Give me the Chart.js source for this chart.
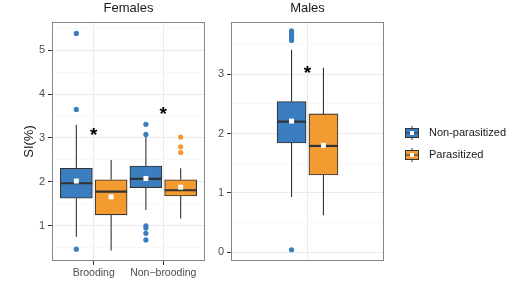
<!DOCTYPE html>
<html>
<head>
<meta charset="utf-8">
<script src="https://cdn.jsdelivr.net/npm/chart.js@4"></script>
<style>
  body { margin: 0; background: #fff; }
  #wrap { position: relative; width: 528px; height: 284px; }
  canvas { position: absolute; top: 0; }
</style>
</head>
<body>
<div id="wrap">
  <canvas id="femCanvas" width="210" height="284" style="left:0"></canvas>
  <canvas id="maleCanvas" width="318" height="284" style="left:210px"></canvas>
</div>
<script>
// --- data ---
const femCats = ["Brooding", "Non\u2212brooding"];
const femMajor = [1, 2, 3, 4, 5];
const femMinor = [0.5, 1.5, 2.5, 3.5, 4.5, 5.5];

// Females, non-parasitized (blue)
const fNpLow = [0.75, 1.36];
const fNpQ1 = [1.63, 1.87];
const fNpMed = [1.97, 2.07];
const fNpQ3 = [2.31, 2.36];
const fNpHigh = [3.30, 3.05];
const fNpMean = [2.02, 2.08];
const fNpOutB = [5.38, 3.65, 0.47];
const fNpOutNB = [3.31, 3.08, 1.00, 0.95, 0.83, 0.68];

// Females, parasitized (orange)
const fPLow = [0.44, 1.17];
const fPQ1 = [1.25, 1.68];
const fPMed = [1.78, 1.81];
const fPQ3 = [2.05, 2.05];
const fPHigh = [2.50, 2.31];
const fPMean = [1.66, 1.88];
const fPOutB = [];
const fPOutNB = [3.02, 2.80, 2.67];

const femStars = [3.14, 3.62];

// Males
const maleMajor = [0, 1, 2, 3];
const maleMinor = [0.5, 1.5, 2.5, 3.5];
const mNp = { low: 0.93, q1: 1.84, med: 2.20, q3: 2.54, high: 3.41, mean: 2.21 };
const mNpOut = [3.73, 3.69, 3.65, 3.61, 3.57, 0.04];
const mP = { low: 0.62, q1: 1.30, med: 1.79, q3: 2.33, high: 3.11, mean: 1.80 };
const mPOut = [];
const maleStars = [3.08];

const legendLabels = ["Non-parasitized", "Parasitized"];

const BLUE = "#3a7ebf";
const ORANGE = "#f39b30";
const LINE = "#333333";
const FONT = "'Liberation Sans', Arial, sans-serif";

// whiskers + median for box datasets, drawn right after the box itself
const boxExtras = {
  id: "boxExtras",
  afterDatasetDraw(chart, args) {
    const ds = chart.data.datasets[args.index];
    if (!ds.stats) return;
    const y = chart.scales.y;
    const ctx = chart.ctx;
    const s = ds.stats;
    ctx.save();
    ctx.strokeStyle = LINE;
    args.meta.data.forEach((bar, i) => {
      const half = bar.width / 2;
      ctx.lineWidth = 1.1;
      ctx.beginPath();
      ctx.moveTo(bar.x, y.getPixelForValue(s.high[i]));
      ctx.lineTo(bar.x, y.getPixelForValue(s.q3[i]));
      ctx.moveTo(bar.x, y.getPixelForValue(s.q1[i]));
      ctx.lineTo(bar.x, y.getPixelForValue(s.low[i]));
      ctx.stroke();
      ctx.lineWidth = 2.2;
      ctx.beginPath();
      const ym = y.getPixelForValue(s.med[i]);
      ctx.moveTo(bar.x - half, ym);
      ctx.lineTo(bar.x + half, ym);
      ctx.stroke();
    });
    ctx.restore();
  }
};

// panel border, significance stars, optional legend
const panelDeco = {
  id: "panelDeco",
  afterDraw(chart, args, opts) {
    const ctx = chart.ctx;
    const a = chart.chartArea;
    ctx.save();
    ctx.strokeStyle = "#858585";
    ctx.lineWidth = 1;
    ctx.strokeRect(Math.round(a.left) + 0.5, Math.round(a.top) + 0.5,
      Math.round(a.right - a.left) - 1, Math.round(a.bottom - a.top) - 1);

    ctx.fillStyle = "#000";
    ctx.font = "bold 19px " + FONT;
    ctx.textAlign = "center";
    ctx.textBaseline = "alphabetic";
    const m = ctx.measureText("*");
    const shift = (m.actualBoundingBoxAscent - m.actualBoundingBoxDescent) / 2;
    (opts.stars || []).forEach((v, i) => {
      const px = chart.scales.x.getPixelForValue(i + 1);
      const py = chart.scales.y.getPixelForValue(v);
      ctx.fillText("*", px, py + shift);
    });

    if (opts.legend) {
      const colors = [BLUE, ORANGE];
      const x0 = a.right + 21;
      const ys = [133, 155];
      ctx.font = "11px " + FONT;
      ctx.textAlign = "left";
      ctx.textBaseline = "middle";
      legendLabels.forEach((lab, i) => {
        const cy = ys[i];
        ctx.strokeStyle = LINE;
        ctx.lineWidth = 1;
        ctx.beginPath();
        ctx.moveTo(x0 + 7, cy - 7);
        ctx.lineTo(x0 + 7, cy + 7);
        ctx.stroke();
        ctx.fillStyle = colors[i];
        ctx.fillRect(x0 + 0.5, cy - 4.5, 13, 9);
        ctx.strokeRect(x0 + 0.5, cy - 4.5, 13, 9);
        ctx.beginPath();
        ctx.moveTo(x0 + 0.5, cy);
        ctx.lineTo(x0 + 13.5, cy);
        ctx.stroke();
        ctx.fillStyle = "#fff";
        ctx.fillRect(x0 + 5, cy - 2, 4, 4);
        ctx.fillStyle = "#1a1a1a";
        ctx.fillText(lab, x0 + 24, cy);
      });
    }
    ctx.restore();
  }
};

function boxSet(xs, q1, q3, low, med, high, color, width) {
  return {
    type: "bar",
    data: xs.map((x, i) => ({ x: x, y: [q1[i], q3[i]] })),
    stats: { low: low, q1: q1, med: med, q3: q3, high: high },
    backgroundColor: color,
    borderColor: LINE,
    borderWidth: 1.1,
    borderSkipped: false,
    barThickness: width,
    grouped: false,
    order: 2
  };
}

function pointSet(pts, color, style, radius) {
  return {
    type: "scatter",
    data: pts,
    backgroundColor: color,
    borderWidth: 0,
    pointStyle: style,
    pointRadius: radius,
    order: 1
  };
}

function yScale(min, max, major, minor, width, title) {
  return {
    type: "linear",
    min: min,
    max: max,
    afterBuildTicks: s => {
      s.ticks = major.concat(minor).sort((a, b) => a - b).map(v => ({ value: v }));
    },
    afterFit: s => { s.width = width; },
    ticks: {
      autoSkip: false,
      padding: 3,
      color: "#4d4d4d",
      font: { size: 11, family: FONT },
      callback: v => (major.includes(v) ? String(v) : "")
    },
    grid: {
      color: c => (major.includes(c.tick.value) ? "#ebebeb" : "#f4f4f4"),
      lineWidth: c => (major.includes(c.tick.value) ? 1 : 0.6),
      tickColor: c => (major.includes(c.tick.value) ? LINE : "rgba(0,0,0,0)"),
      tickLength: 4
    },
    border: { display: false },
    title: title ? {
      display: true,
      text: title,
      color: "#1a1a1a",
      font: { size: 13, family: FONT },
      padding: { top: 22, bottom: 0 }
    } : { display: false }
  };
}

function xScale(min, max, cats, showTicks) {
  return {
    type: "linear",
    min: min,
    max: max,
    offset: false,
    afterBuildTicks: s => {
      s.ticks = cats.map((c, i) => ({ value: i + 1 }));
    },
    afterFit: s => { s.height = 23; },
    ticks: {
      autoSkip: false,
      maxRotation: 0,
      padding: 2,
      color: "#4d4d4d",
      font: { size: 10.5, family: FONT },
      callback: (v, i) => cats[i]
    },
    grid: {
      offset: false,
      color: "#ebebeb",
      lineWidth: 1,
      tickColor: showTicks ? LINE : "rgba(0,0,0,0)",
      tickLength: 4
    },
    border: { display: false }
  };
}

function titleOpts(text) {
  return {
    display: true,
    text: text,
    fullSize: false,
    color: "#1a1a1a",
    font: { size: 13, weight: "normal", family: FONT },
    padding: { top: 1, bottom: 5.4 }
  };
}

// Females panel
const fBlueX = [0.75, 1.75];
const fOrangeX = [1.25, 2.25];
const fNpOutPts = fNpOutB.map(v => ({ x: fBlueX[0], y: v }))
  .concat(fNpOutNB.map(v => ({ x: fBlueX[1], y: v })));
const fPOutPts = fPOutB.map(v => ({ x: fOrangeX[0], y: v }))
  .concat(fPOutNB.map(v => ({ x: fOrangeX[1], y: v })));

new Chart(document.getElementById("femCanvas"), {
  type: "bar",
  data: {
    datasets: [
      pointSet(fNpMean.map((v, i) => ({ x: fBlueX[i], y: v })), "#fff", "rect", 3.5),
      pointSet(fPMean.map((v, i) => ({ x: fOrangeX[i], y: v })), "#fff", "rect", 3.5),
      pointSet(fNpOutPts, BLUE, "circle", 2.6),
      pointSet(fPOutPts, ORANGE, "circle", 2.6),
      boxSet(fBlueX, fNpQ1, fNpQ3, fNpLow, fNpMed, fNpHigh, BLUE, 32),
      boxSet(fOrangeX, fPQ1, fPQ3, fPLow, fPMed, fPHigh, ORANGE, 32)
    ]
  },
  options: {
    responsive: false,
    animation: false,
    events: [],
    layout: { padding: { left: 0, right: 5, top: 0, bottom: 0 } },
    scales: {
      x: xScale(0.4, 2.6, femCats, true),
      y: yScale(0.2, 5.64, femMajor, femMinor, 52, "SI(%)")
    },
    plugins: {
      legend: { display: false },
      tooltip: { enabled: false },
      title: titleOpts("Females"),
      panelDeco: { stars: femStars }
    }
  },
  plugins: [boxExtras, panelDeco]
});

// Males panel
const mBlueX = [0.875];
const mOrangeX = [1.125];

new Chart(document.getElementById("maleCanvas"), {
  type: "bar",
  data: {
    datasets: [
      pointSet([{ x: mBlueX[0], y: mNp.mean }], "#fff", "rect", 3.5),
      pointSet([{ x: mOrangeX[0], y: mP.mean }], "#fff", "rect", 3.5),
      pointSet(mNpOut.map(v => ({ x: mBlueX[0], y: v })), BLUE, "circle", 2.6),
      pointSet(mPOut.map(v => ({ x: mOrangeX[0], y: v })), ORANGE, "circle", 2.6),
      boxSet(mBlueX, [mNp.q1], [mNp.q3], [mNp.low], [mNp.med], [mNp.high], BLUE, 29),
      boxSet(mOrangeX, [mP.q1], [mP.q3], [mP.low], [mP.med], [mP.high], ORANGE, 29)
    ]
  },
  options: {
    responsive: false,
    animation: false,
    events: [],
    layout: { padding: { left: 0, right: 144, top: 0, bottom: 0 } },
    scales: {
      x: xScale(0.4, 1.6, [""], false),
      y: yScale(-0.15, 3.88, maleMajor, maleMinor, 21, null)
    },
    plugins: {
      legend: { display: false },
      tooltip: { enabled: false },
      title: titleOpts("Males"),
      panelDeco: { stars: maleStars, legend: true }
    }
  },
  plugins: [boxExtras, panelDeco]
});
</script>
</body>
</html>
